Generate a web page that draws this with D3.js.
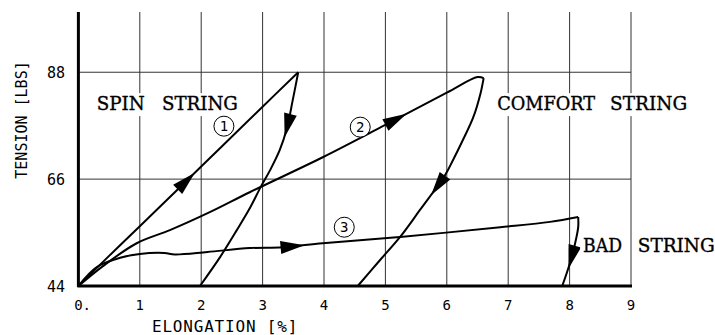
<!DOCTYPE html>
<html>
<head>
<meta charset="utf-8">
<script src="https://cdn.jsdelivr.net/npm/d3@7"></script>
<style>
  body { margin: 0; background: #fff; }
  svg { display: block; }
</style>
</head>
<body>
<script>
/*** data ***/
const xTicks = [0, 1, 2, 3, 4, 5, 6, 7, 8, 9];
const xTickLabels = ["0.", "1", "2", "3", "4", "5", "6", "7", "8", "9"];
const yTicks = [44, 66, 88];
const gridY = [66, 88];

// [elongation %, tension lbs]
const spinLoad = [[0, 44], [0.5, 50.2], [1, 56.3], [2, 68.6], [3, 80.9], [3.58, 88]];
const spinUnload = [[3.58, 88], [3.49, 82.2], [3.4, 76.7], [3.28, 72], [3.12, 67.8], [2.97, 64.4],
  [2.8, 60.2], [2.58, 55.5], [2.31, 50], [1.98, 44]];

const comfortLoad = [[0, 44], [0.4, 48.1], [0.95, 52.8], [1.49, 55.5], [2.14, 59.2], [2.79, 63.3],
  [3.98, 70.5], [4.99, 77.1], [6, 83.8], [6.5, 87.0], [6.6, 86.8]];
const comfortUnload = [[6.6, 86.8], [6.55, 83.7], [6.43, 78.7], [6.26, 74], [6.1, 69.9],
  [5.97, 66.8], [5.56, 59.6], [5.24, 54.1], [4.91, 49.3], [4.55, 44]];

const badLoad = [[0, 44], [0.3, 47.9], [0.68, 49.8], [1, 50.6], [1.4, 50.8], [1.57, 50.5],
  [2.1, 51], [2.79, 51.8], [3.33, 52], [3.98, 52.8], [5.24, 54.1], [6.87, 56.1], [7.68, 57.2], [8.14, 58.2]];
const badUnload = [[8.14, 58.2], [8.14, 56.1], [8.09, 52.8], [8.01, 48.9], [7.88, 44]];

// arrow spots (data coords) on each branch
const arrowSpots = [[1.67, 66.8], [3.38, 77.1], [5.19, 77.9], [5.89, 64.4], [3.49, 52.2], [8.05, 49.8]];

const labelWords = ["SPIN", "STRING", "COMFORT", "STRING", "BAD", "STRING"];
const labelSpots = [[0.30, 80.2], [1.36, 80.2], [6.82, 80.2], [8.66, 80.2], [8.22, 51.05], [9.11, 51.05]];
const labelWidths = [48, 76, 98, 77, 39, 77];

const circleNums = ["1", "2", "3"];
const circleSpots = [[2.37, 76.9], [4.59, 76.7], [4.33, 56.1]];

/*** chart ***/
const width = 715, height = 335;

const x = d3.scaleLinear([0, 9], [78.4, 631]);
const y = d3.scaleLinear([44, 100.4], [286, 12]);

const svg = d3.select("body").append("svg")
  .attr("width", width).attr("height", height);

const mono = "'DejaVu Sans Mono', monospace";
const serif = "'DejaVu Serif', serif";

// grid
svg.append("g")
  .selectAll("line")
  .data(xTicks.slice(1))
  .join("line")
  .attr("x1", d => x(d)).attr("x2", d => x(d))
  .attr("y1", y(44)).attr("y2", y(100.4))
  .attr("stroke", "#333").attr("stroke-width", 1);

svg.append("g")
  .selectAll("line")
  .data(gridY)
  .join("line")
  .attr("x1", x(0)).attr("x2", x(9))
  .attr("y1", d => y(d)).attr("y2", d => y(d))
  .attr("stroke", "#333").attr("stroke-width", 1);

// axes (thick)
svg.append("line")
  .attr("x1", x(0)).attr("x2", x(0)).attr("y1", y(44) + 1).attr("y2", y(100.4))
  .attr("stroke", "#000").attr("stroke-width", 3);
svg.append("line")
  .attr("x1", x(0) - 1).attr("x2", x(9) + 1).attr("y1", y(44)).attr("y2", y(44))
  .attr("stroke", "#000").attr("stroke-width", 3);

// tick labels
svg.append("g")
  .selectAll("text")
  .data(xTicks)
  .join("text")
  .attr("x", d => x(d) - 4.2)
  .attr("y", 310)
  .attr("font-family", mono).attr("font-size", 14)
  .attr("fill", "#000")
  .text((d, i) => xTickLabels[i]);

svg.append("g")
  .selectAll("text")
  .data(yTicks)
  .join("text")
  .attr("x", 65)
  .attr("y", d => y(d) + 6)
  .attr("text-anchor", "end")
  .attr("font-family", mono).attr("font-size", 15)
  .attr("fill", "#000")
  .text(d => d);

// axis titles
svg.append("text")
  .attr("x", 152).attr("y", 332)
  .attr("font-family", mono).attr("font-size", 16)
  .attr("letter-spacing", 0.8)
  .text("ELONGATION [%]");

svg.append("text")
  .attr("transform", "translate(27,120) rotate(-90)")
  .attr("text-anchor", "middle")
  .attr("font-family", mono).attr("font-size", 15)
  .text("TENSION [LBS]");

// curves
const line = d3.line()
  .x(d => x(d[0])).y(d => y(d[1]))
  .curve(d3.curveCatmullRom.alpha(0.5));

const branches = [spinLoad, spinUnload, comfortLoad, comfortUnload, badLoad, badUnload];

const paths = svg.append("g")
  .selectAll("path")
  .data(branches)
  .join("path")
  .attr("d", line)
  .attr("fill", "none")
  .attr("stroke", "#000")
  .attr("stroke-width", 2)
  .attr("stroke-linejoin", "round");

// arrows: find the nearest point on each branch, orient along it
paths.each(function(d, i) {
  const node = this;
  const total = node.getTotalLength();
  const tx = x(arrowSpots[i][0]), ty = y(arrowSpots[i][1]);
  let best = 0, bestD = Infinity;
  for (let l = 0; l <= total; l += 0.5) {
    const p = node.getPointAtLength(l);
    const dd = (p.x - tx) ** 2 + (p.y - ty) ** 2;
    if (dd < bestD) { bestD = dd; best = l; }
  }
  const p = node.getPointAtLength(best);
  const a = node.getPointAtLength(Math.max(0, best - 3));
  const b = node.getPointAtLength(Math.min(total, best + 3));
  const ang = Math.atan2(b.y - a.y, b.x - a.x) * 180 / Math.PI;
  svg.append("path")
    .attr("d", "M12,0L-12,-6.5L-12,6.5Z")
    .attr("transform", `translate(${p.x},${p.y}) rotate(${ang})`)
    .attr("fill", "#000");
});

// string labels, on white boxes that hide the grid
const lab = svg.append("g")
  .selectAll("g")
  .data(labelWords)
  .join("g")
  .attr("transform", (d, i) => `translate(${x(labelSpots[i][0])},${y(labelSpots[i][1])})`);

lab.append("rect")
  .attr("x", -3).attr("y", -17)
  .attr("width", (d, i) => labelWidths[i] + 6)
  .attr("height", 23)
  .attr("fill", "#fff");

lab.append("text")
  .attr("font-family", serif).attr("font-size", 18)
  .attr("textLength", (d, i) => labelWidths[i])
  .attr("lengthAdjust", "spacingAndGlyphs")
  .attr("fill", "#000")
  .attr("stroke", "#000").attr("stroke-width", 0.35)
  .text(d => d);

// circled numbers
const cn = svg.append("g")
  .selectAll("g")
  .data(circleNums)
  .join("g")
  .attr("transform", (d, i) => `translate(${x(circleSpots[i][0])},${y(circleSpots[i][1])})`);

cn.append("circle")
  .attr("r", 10)
  .attr("fill", "#fff")
  .attr("stroke", "#000")
  .attr("stroke-width", 1);

cn.append("text")
  .attr("text-anchor", "middle")
  .attr("y", 5)
  .attr("font-family", mono).attr("font-size", 14)
  .text(d => d);
</script>
</body>
</html>
